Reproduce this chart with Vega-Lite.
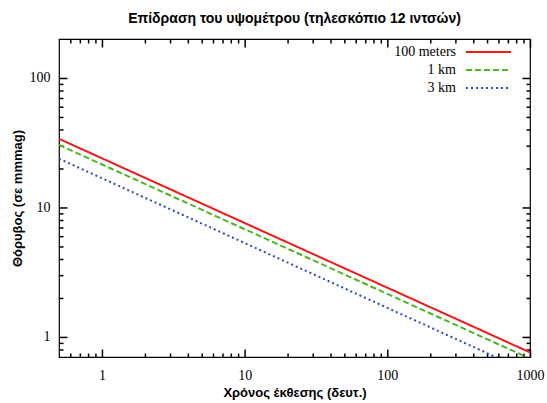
{
  "$schema": "https://vega.github.io/schema/vega-lite/v6.json",
  "width": 471,
  "height": 318,
  "autosize": {"type": "none"},
  "padding": {"left": 59, "top": 39, "right": 17, "bottom": 46},
  "background": "white",
  "title": {"text": "Επίδραση του υψομέτρου (τηλεσκόπιο 12 ιντσών)", "font": "Liberation Sans", "fontSize": 14, "fontWeight": "bold", "color": "black", "offset": 12, "anchor": "middle"},
  "config": {"view": {"stroke": "black", "strokeWidth": 1.2}, "axis": {"ticks": true, "tickColor": "black", "tickOpacity": 1, "tickWidth": 1.5, "tickRound": false}},
  "data": {"values": [
    {"series": "100 meters", "t": 0.5, "noise": 33.9},
    {"series": "100 meters", "t": 1000, "noise": 0.76},
    {"series": "1 km", "t": 0.5, "noise": 30.4},
    {"series": "1 km", "t": 1000, "noise": 0.68},
    {"series": "3 km", "t": 0.5, "noise": 23.8},
    {"series": "3 km", "t": 1000, "noise": 0.53}
  ]},
  "layer": [
    {
      "mark": {"type": "line", "clip": true, "strokeWidth": 2},
      "encoding": {
        "x": {"field": "t", "type": "quantitative", "scale": {"type": "log", "domain": [0.5, 1000], "nice": false},
          "axis": {"orient": "bottom", "offset": -8, "ticks": true, "values": [1, 10, 100, 1000], "format": "d", "title": "Χρόνος έκθεσης (δευτ.)", "titleFont": "Liberation Sans", "titleFontSize": 13, "titleFontWeight": "bold", "titleColor": "black", "titlePadding": 4, "labelFont": "Liberation Serif", "labelFontSize": 14, "labelColor": "black", "tickSize": 8, "labelPadding": 11, "domain": false, "grid": false, "labelFlush": false, "labelOverlap": false}},
        "y": {"field": "noise", "type": "quantitative", "scale": {"type": "log", "domain": [0.7, 200], "nice": false},
          "axis": {"orient": "left", "offset": -8, "ticks": true, "values": [1, 10, 100], "format": "d", "title": "Θόρυβος (σε mmmag)", "titleFont": "Liberation Sans", "titleFontSize": 13, "titleFontWeight": "bold", "titleColor": "black", "titlePadding": 5, "labelFont": "Liberation Serif", "labelFontSize": 14, "labelColor": "black", "tickSize": 8, "labelPadding": 9, "domain": false, "grid": false, "labelFlush": false, "labelOverlap": false}},
        "color": {"field": "series", "type": "nominal", "scale": {"domain": ["100 meters", "1 km", "3 km"], "range": ["#f01a1a", "#4cb526", "#2a48c8"]},
          "legend": {"title": null, "orient": "none", "legendX": 420.5, "legendY": 4, "padding": 0, "symbolType": "M-2.8125,0H2.8125", "symbolSize": 256, "symbolStrokeWidth": 2, "labelFont": "Liberation Serif", "labelFontSize": 14, "labelColor": "black", "labelAlign": "right", "labelOffset": -41.5, "rowPadding": 2}},
        "strokeDash": {"field": "series", "type": "nominal", "scale": {"domain": ["100 meters", "1 km", "3 km"], "range": [[1, 0], [6, 3], [2, 3]]},
          "legend": {"title": null, "orient": "none", "legendX": 420.5, "legendY": 4, "padding": 0, "symbolType": "M-2.8125,0H2.8125", "symbolSize": 256, "symbolStrokeWidth": 2, "labelFont": "Liberation Serif", "labelFontSize": 14, "labelColor": "black", "labelAlign": "right", "labelOffset": -41.5, "rowPadding": 2}}
      }
    },
    {
      "mark": {"type": "point", "opacity": 0},
      "encoding": {
        "x": {"field": "t", "type": "quantitative", "scale": {"type": "log", "domain": [0.5, 1000], "nice": false},
          "axis": {"orient": "bottom", "offset": -4, "ticks": true, "values": [0.6, 0.7, 0.8, 0.9, 2, 3, 4, 5, 6, 7, 8, 9, 20, 30, 40, 50, 60, 70, 80, 90, 200, 300, 400, 500, 600, 700, 800, 900], "labels": false, "title": null, "tickSize": 4, "domain": false, "grid": false}},
        "y": {"field": "noise", "type": "quantitative", "scale": {"type": "log", "domain": [0.7, 200], "nice": false},
          "axis": {"orient": "left", "offset": -4, "ticks": true, "values": [0.8, 0.9, 2, 3, 4, 5, 6, 7, 8, 9, 20, 30, 40, 50, 60, 70, 80, 90], "labels": false, "title": null, "tickSize": 4, "domain": false, "grid": false}}
      }
    },
    {
      "mark": {"type": "point", "opacity": 0},
      "encoding": {
        "x": {"field": "t", "type": "quantitative", "scale": {"type": "log", "domain": [0.5, 1000], "nice": false},
          "axis": {"orient": "top", "offset": -8, "ticks": true, "values": [1, 10, 100, 1000], "labels": false, "title": null, "tickSize": 8, "domain": false, "grid": false}},
        "y": {"field": "noise", "type": "quantitative", "scale": {"type": "log", "domain": [0.7, 200], "nice": false},
          "axis": {"orient": "right", "offset": -8, "ticks": true, "values": [1, 10, 100], "labels": false, "title": null, "tickSize": 8, "domain": false, "grid": false}}
      }
    },
    {
      "mark": {"type": "point", "opacity": 0},
      "encoding": {
        "x": {"field": "t", "type": "quantitative", "scale": {"type": "log", "domain": [0.5, 1000], "nice": false},
          "axis": {"orient": "top", "offset": -4, "ticks": true, "values": [0.6, 0.7, 0.8, 0.9, 2, 3, 4, 5, 6, 7, 8, 9, 20, 30, 40, 50, 60, 70, 80, 90, 200, 300, 400, 500, 600, 700, 800, 900], "labels": false, "title": null, "tickSize": 4, "domain": false, "grid": false}},
        "y": {"field": "noise", "type": "quantitative", "scale": {"type": "log", "domain": [0.7, 200], "nice": false},
          "axis": {"orient": "right", "offset": -4, "ticks": true, "values": [0.8, 0.9, 2, 3, 4, 5, 6, 7, 8, 9, 20, 30, 40, 50, 60, 70, 80, 90], "labels": false, "title": null, "tickSize": 4, "domain": false, "grid": false}}
      }
    }
  ],
  "resolve": {"axis": {"x": "independent", "y": "independent"}}
}
